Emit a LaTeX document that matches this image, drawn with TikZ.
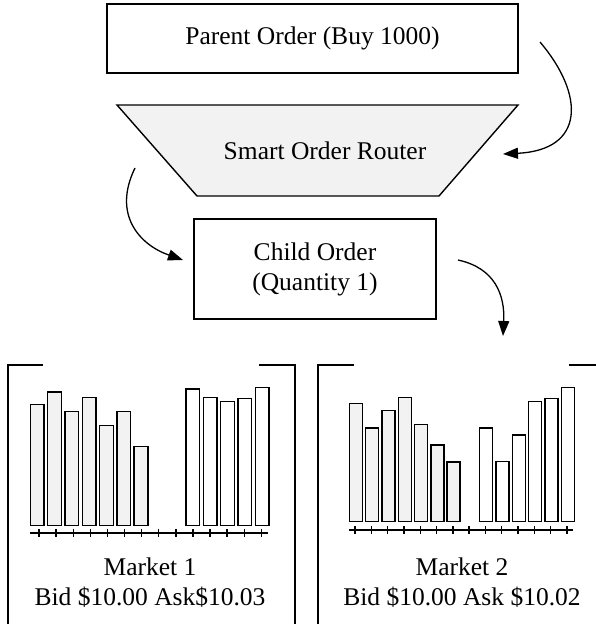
\documentclass[tikz,border=0pt]{standalone}
\usepackage{fontspec}
\setmainfont{Liberation Serif}
\usetikzlibrary{arrows.meta,positioning}
\definecolor{boxfill}{RGB}{242,242,242}

\tikzset{
  box/.style={draw, line width=1.4pt, minimum width=#1, inner sep=0pt},
  flow/.style={line width=1.3pt, -{Triangle[length=15pt,width=11pt]}},
  bar/.style={draw, line width=1.4pt},
  frame/.style={line width=1.4pt},
  tick/.style={line width=1.4pt},
}

\begin{document}
\begin{tikzpicture}[x=1pt, y=-1pt, font=\fontsize{25.5}{30}\selectfont]
\useasboundingbox (0,0) rectangle (596,624);

% order boxes
\node[box=411pt, minimum height=69pt] (parent) at (312.5,38.5) {Parent Order (Buy 1000)};
\draw[line width=1.4pt, fill=boxfill] (117,105) -- (518,105) -- (439,196) -- (197,196) -- cycle;
\node (router) at (325,151) {Smart Order Router};
\node[box=242pt, minimum height=100pt, align=center] (child) at (315,269) {Child Order\\(Quantity 1)};

% connectors
\coordinate (a1) at (540,42);  \coordinate (b1) at (503,154);
\coordinate (a2) at (135,168); \coordinate (b2) at (183,260);
\coordinate (a3) at (458,260); \coordinate (b3) at (503,336);
\draw[flow] (a1) .. controls (585,95) and (585,150) .. (b1);
\draw[flow] (a2) .. controls (112,215) and (140,245) .. (b2);
\draw[flow] (a3) .. controls (495,268) and (505,295) .. (b3);

% market frames
\draw[frame] (43,365) -- (8,365) -- (8,624);
\draw[frame] (259,365) -- (295,365) -- (295,624);
\draw[frame] (354,365) -- (318,365) -- (318,624);
\draw[frame] (569,365) -- (596,365);

% market 1 book
\foreach \i/\t in {0/404.3, 1/392, 2/411.3, 3/397.3, 4/425.7, 5/411.3, 6/446.7}
  \draw[bar, fill=boxfill] (30.3+17.3*\i,525.7) rectangle ++(13.7,\t-525.7);
\foreach \i/\t in {9/389, 10/397.3, 11/401.7, 12/398.7, 13/387.7}
  \draw[bar, fill=white] (30.3+17.3*\i,525.7) rectangle ++(13.7,\t-525.7);
\draw[frame] (30,533) -- (268,533);
\foreach \i in {0,...,13}
  \draw[tick] (39+17.1*\i,529) -- ++(0,8);
\node[align=center] (m1) at (150,583) {Market 1\\Bid \$10.00 Ask\$10.03};

% market 2 book
\foreach \i/\t in {0/403.7, 1/428, 2/410.7, 3/397.3, 4/424.3, 5/445, 6/462}
  \draw[bar, fill=boxfill] (349.3+16.3*\i,521.7) rectangle ++(13,\t-521.7);
\foreach \i/\t in {8/428, 9/461.7, 10/435, 11/401.3, 12/398.3, 13/387.7}
  \draw[bar, fill=white] (349.3+16.3*\i,521.7) rectangle ++(13,\t-521.7);
\draw[frame] (349,530) -- (573,530);
\foreach \i in {0,...,13}
  \draw[tick] (355+16.3*\i,526) -- ++(0,8);
\node[align=center] (m2) at (462,583) {Market 2\\Bid \$10.00 Ask \$10.02};
\end{tikzpicture}
\end{document}
